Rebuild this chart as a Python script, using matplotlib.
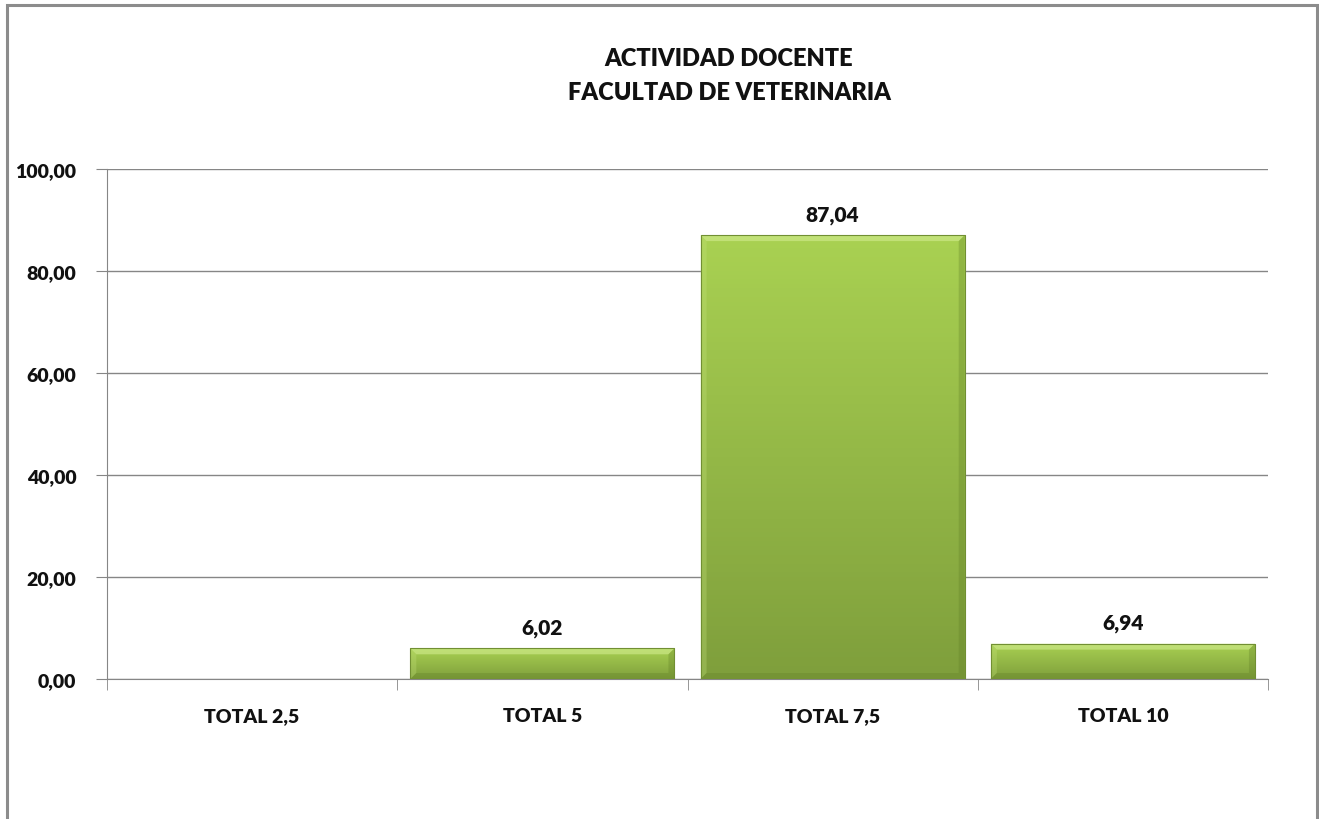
import numpy as np
import matplotlib.pyplot as plt
from matplotlib.colors import LinearSegmentedColormap
from matplotlib.patches import Polygon, Rectangle

plt.rcParams['font.family'] = ['Lato', 'DejaVu Sans']
plt.rcParams['font.weight'] = 'bold'

categories = ['TOTAL 2,5', 'TOTAL 5', 'TOTAL 7,5', 'TOTAL 10']
values = [0.0, 6.02, 87.04, 6.94]
labels = ['', '6,02', '87,04', '6,94']
yticks = [0, 20, 40, 60, 80, 100]

W, H = 1319, 820
fig = plt.figure(figsize=(W / 100, H / 100), dpi=100)
ax = fig.add_axes([107 / W, 140 / H, 1161 / W, 510 / H])

# outer chart border (bottom edge is cut off in the reference)
fig.add_artist(Rectangle((7 / W, -0.05), 1310 / W, 1.05 - 6 / H,
                         transform=fig.transFigure, fill=False,
                         edgecolor='#8c8c8c', lw=2.2))

fig.text(729 / W, 1 - 59 / H, 'ACTIVIDAD DOCENTE', ha='center', va='center',
         fontsize=17, fontweight='heavy', color='#111111')
fig.text(729 / W, 1 - 93 / H, 'FACULTAD DE VETERINARIA', ha='center', va='center',
         fontsize=17, fontweight='heavy', color='#111111')

x = np.arange(len(categories))
width = 0.91
grad = LinearSegmentedColormap.from_list('g', ['#7f9f3c', '#a9d152'])

ax.set_xlim(-0.5, len(categories) - 0.5)
ax.set_ylim(0, 100)

bars = ax.bar(x, values, width=width, color='none', edgecolor='none', zorder=3)
bx = 6 * 4 / 1161   # bevel size in data units
by = 6 * 100 / 510
for rect, v in zip(bars, values):
    if v <= 0:
        continue
    x0 = rect.get_x()
    x1 = x0 + rect.get_width()
    img = ax.imshow(np.linspace(0, 1, 100).reshape(-1, 1), cmap=grad, origin='lower',
                    extent=(x0, x1, 0, v), aspect='auto', zorder=3)
    img.set_clip_path(rect)
    # soft bevel edges
    ax.add_patch(Polygon([(x0, v), (x1, v), (x1 - bx, v - by), (x0 + bx, v - by)],
                         color='#d6ef96', alpha=0.55, lw=0, zorder=4))
    ax.add_patch(Polygon([(x0, v), (x0 + bx, v - by), (x0 + bx, by), (x0, 0)],
                         color='#c4e27c', alpha=0.3, lw=0, zorder=4))
    ax.add_patch(Polygon([(x1, v), (x1 - bx, v - by), (x1 - bx, by), (x1, 0)],
                         color='#5f7d25', alpha=0.3, lw=0, zorder=4))
    ax.add_patch(Polygon([(x0, 0), (x1, 0), (x1 - bx, by), (x0 + bx, by)],
                         color='#5f7d25', alpha=0.3, lw=0, zorder=4))
    ax.add_patch(Rectangle((x0, 0), x1 - x0, v, fill=False,
                           edgecolor='#718f33', lw=0.8, zorder=5))

for xi, v, lab in zip(x, values, labels):
    if lab:
        ax.annotate(lab, (xi, v), xytext=(0, 8), textcoords='offset points',
                    ha='center', va='bottom', fontsize=15, fontweight='heavy',
                    color='#111111')

ax.set_yticks(yticks)
ax.set_yticklabels([f'{t:.2f}'.replace('.', ',') for t in yticks],
                   fontsize=14, fontweight='heavy', color='#111111')
ax.set_xticks(x)
ax.set_xticklabels(categories, fontsize=14, fontweight='heavy', color='#111111')
ax.set_xticks(np.arange(len(categories) + 1) - 0.5, minor=True)
ax.tick_params(axis='x', which='major', length=0, pad=20)
ax.tick_params(axis='x', which='minor', length=8, color='#868686', direction='out')
ax.tick_params(axis='y', length=8, color='#868686', direction='out', pad=14)

ax.grid(axis='y', color='#868686', lw=1, zorder=0)
ax.set_axisbelow(True)
for s in ['top', 'right']:
    ax.spines[s].set_visible(False)
ax.spines['left'].set_color('#868686')
ax.spines['bottom'].set_color('#868686')

fig.savefig('out.png', dpi=100)
